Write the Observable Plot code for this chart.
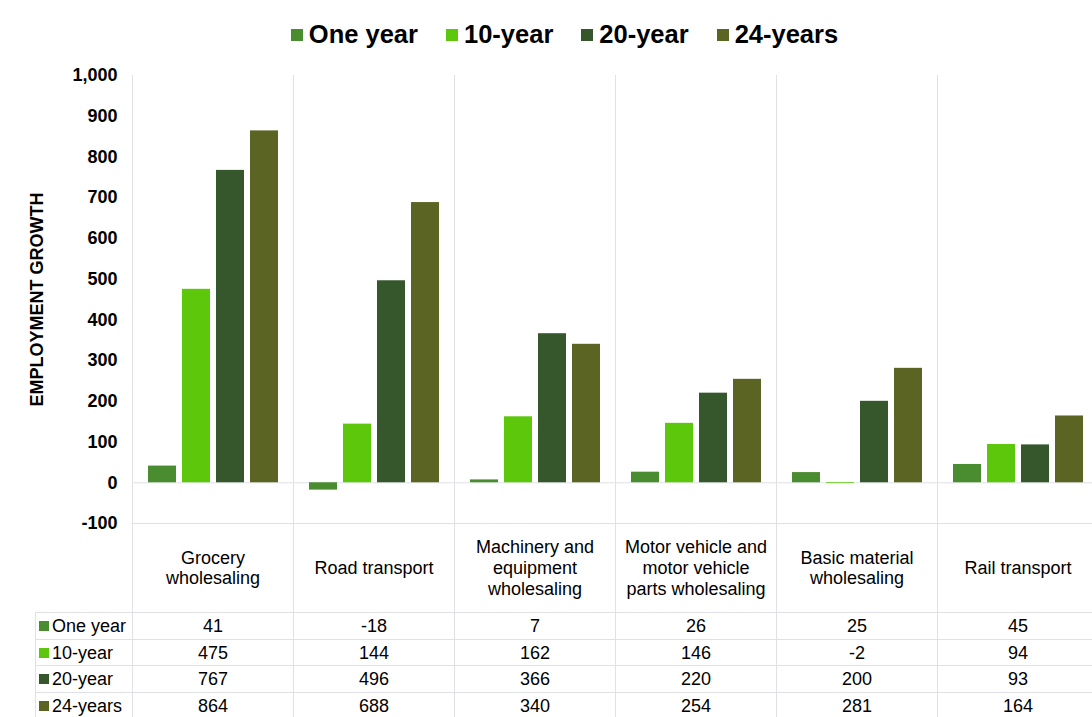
<!DOCTYPE html>
<html>
<head>
<meta charset="utf-8">
<script src="https://cdn.jsdelivr.net/npm/d3@7"></script>
<script src="https://cdn.jsdelivr.net/npm/@observablehq/plot@0.6"></script>
<style>
  html, body { margin: 0; padding: 0; background: #fff; overflow: hidden; }
  body { font-family: "Liberation Sans", Arial, sans-serif; color: #000; width: 1100px; }
  #legend { height: 55px; display: flex; justify-content: center; align-items: center; width: 1092px; box-sizing: border-box; padding-left: 37px; padding-top: 14px; }
  .li { display: flex; align-items: center; margin: 0 14px; font-weight: bold; font-size: 25.5px; }
  .sw { width: 12px; height: 12px; margin-right: 6px; }
  #chart svg { display: block; }
  table { border-collapse: collapse; table-layout: fixed; width: 1063px; margin-left: 35px; font-size: 18px; }
  td { border: 1px solid #dfe1e6; height: 25.7px; padding: 0; text-align: center; line-height: 1; }
  td.lab { text-align: left; padding-left: 3px; white-space: nowrap; }
  .tsw { display: inline-block; width: 10px; height: 10px; margin-right: 3px; vertical-align: 1px; }
</style>
</head>
<body>
<div id="legend"></div>
<div id="chart"></div>
<div id="tbl"></div>
<script>
const categories = ["Grocery wholesaling", "Road transport", "Machinery and equipment wholesaling", "Motor vehicle and motor vehicle parts wholesaling", "Basic material wholesaling", "Rail transport"];
const categoryLabels = ["Grocery\nwholesaling", "Road transport", "Machinery and\nequipment\nwholesaling", "Motor vehicle and\nmotor vehicle\nparts wholesaling", "Basic material\nwholesaling", "Rail transport"];
const series = ["One year", "10-year", "20-year", "24-years"];
const oneYear = [41, -18, 7, 26, 25, 45];
const tenYear = [475, 144, 162, 146, -2, 94];
const twentyYear = [767, 496, 366, 220, 200, 93];
const twentyFourYears = [864, 688, 340, 254, 281, 164];
const colors = ["#4a8c30", "#5cc70b", "#35572b", "#5b6422"];
const yTicks = [-100, 0, 100, 200, 300, 400, 500, 600, 700, 800, 900, 1000];

const seriesValues = [oneYear, tenYear, twentyYear, twentyFourYears];
const rows = categories.flatMap((c, i) => series.map((s, j) => ({category: c, series: s, value: seriesValues[j][i]})));

// legend
const legend = document.getElementById("legend");
series.forEach((s, j) => {
  const it = document.createElement("div");
  it.className = "li";
  it.innerHTML = `<div class="sw" style="background:${colors[j]}"></div><span>${s}</span>`;
  legend.appendChild(it);
});

const grid = "#dfe1e6";
const chart = Plot.plot({
  width: 1098,
  height: 557,
  marginTop: 20,
  marginBottom: 89,
  marginLeft: 132,
  marginRight: 0,
  style: {fontFamily: "'Liberation Sans', Arial, sans-serif", fontSize: "18px", fontWeight: "bold", color: "#000", background: "#fff", overflow: "visible"},
  fx: {domain: categories, padding: 0, axis: null},
  x: {domain: series, paddingInner: 0.19, paddingOuter: 0.415, axis: null},
  y: {
    domain: [-100, 1000],
    ticks: yTicks,
    tickFormat: d => d.toLocaleString("en-US"),
    tickSize: 0,
    tickPadding: 15,
    label: "EMPLOYMENT GROWTH",
    labelAnchor: "center",
    labelArrow: "none",
    labelOffset: 102
  },
  color: {domain: series, range: colors},
  marks: [
    Plot.frame({anchor: "left", stroke: grid, strokeOpacity: 1, insetBottom: -89}),
    Plot.ruleY([0, -100], {stroke: grid, strokeOpacity: 1}),
    Plot.barY(rows, {fx: "category", x: "series", y: "value", fill: "series"}),
    Plot.text(categories, {fx: d => d, text: (d, i) => categoryLabels[i], frameAnchor: "bottom", dy: 44, lineAnchor: "middle", fontSize: 18, fontWeight: "normal", lineHeight: 1.15})
  ]
});
document.getElementById("chart").appendChild(chart);

// data table
let html = '<table><colgroup><col style="width:97px">' + categories.map(() => '<col style="width:161px">').join("") + '</colgroup><tbody>';
series.forEach((s, j) => {
  html += `<tr><td class="lab"><span class="tsw" style="background:${colors[j]}"></span>${s}</td>` +
    seriesValues[j].map(v => `<td>${v}</td>`).join("") + '</tr>';
});
html += '</tbody></table>';
document.getElementById("tbl").innerHTML = html;
</script>
</body>
</html>
